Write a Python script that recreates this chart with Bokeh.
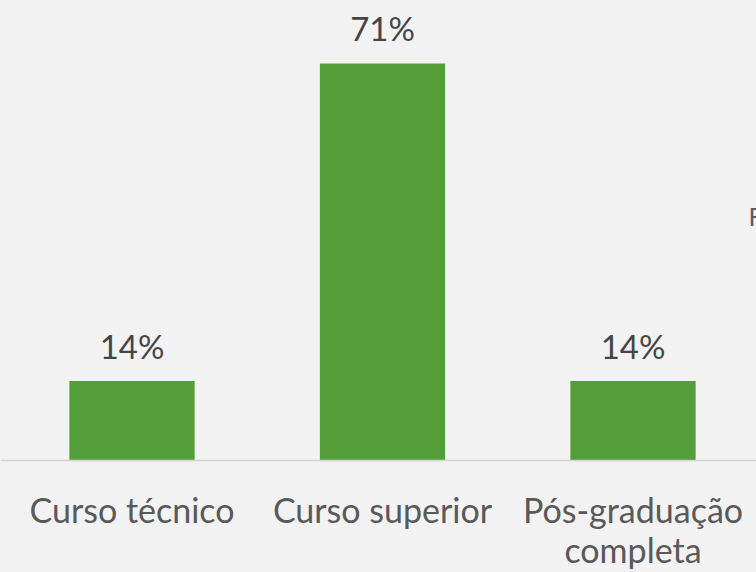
from bokeh.plotting import figure
from bokeh.models import ColumnDataSource, Label, Span
from bokeh.core.properties import value
from bokeh.embed import file_html
from bokeh.resources import INLINE

categories = ["Curso técnico", "Curso superior", "Pós-graduação\ncompleta"]
percent_values = [14.29, 71.43, 14.29]
percent_labels = ["14%", "71%", "14%"]

BG = "#F2F2F2"
BAR = "#549E39"
TXT = "#595959"
LBL = "#454545"
FONT = "Lato"

xs = list(range(len(categories)))
src = ColumnDataSource(dict(x=xs, top=percent_values, lab=percent_labels,
                            base=[0] * len(xs), cat=categories))

p = figure(width=756, height=572, output_backend="svg", toolbar_location=None,
           x_range=(-0.525, 2.493), y_range=(-20.15, 82.76),
           min_border_left=0, min_border_right=0, min_border_top=0, min_border_bottom=0)
p.background_fill_color = BG
p.border_fill_color = BG
p.outline_line_color = None
p.grid.visible = False
p.xaxis.visible = False
p.yaxis.visible = False

p.add_layout(Span(location=0, dimension="width", line_color="#D4D4D4", line_width=1.5))

p.vbar(x="x", top="top", width=0.5, bottom=0, source=src, color=BAR, line_color=None)
p.text(x="x", y="top", text="lab", source=src, text_align="center",
       text_baseline="alphabetic", y_offset=-35, text_font=value(FONT),
       text_font_size="33px", text_color=LBL)
p.text(x="x", y="base", text="cat", source=src, text_align="center",
       text_baseline="top", y_offset=28, text_font=value(FONT),
       text_font_size="34px", text_color=TXT, text_line_height=0.98)

p.add_layout(Label(x=748, y=342, x_units="screen", y_units="screen", text="F",
                   text_font=FONT, text_font_size="25px", text_color=TXT))

open("out.html", "w").write(file_html(p, INLINE).replace("<body>", "<body style=\"background:#F2F2F2\">"))
